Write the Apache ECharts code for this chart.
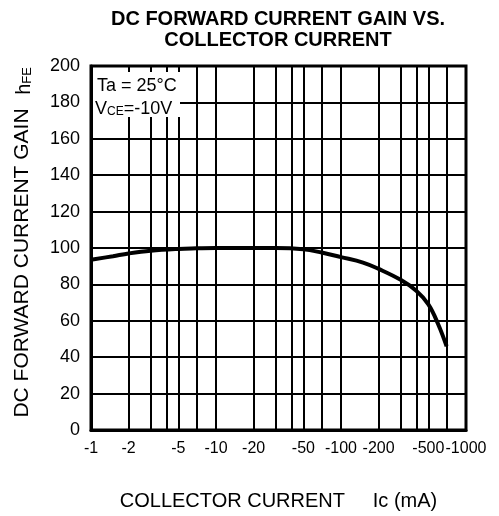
<!DOCTYPE html>
<html>
<head>
<meta charset="utf-8">
<script src="https://cdn.jsdelivr.net/npm/echarts@6/dist/echarts.min.js"></script>
<style>
  html, body { margin: 0; padding: 0; background: #fff; }
  #chart { width: 499px; height: 516px; }
</style>
</head>
<body>
<div id="chart"></div>
<script>
// collector current (mA, magnitude) and hFE
const currentMa = [1, 1.5, 2, 3, 5, 7, 10, 20, 30, 50, 70, 100, 150, 200, 300, 400, 500, 600, 700];
const hfe = [93.5, 95.5, 97, 98.5, 99.5, 99.8, 100, 100, 100, 99.3, 97.5, 95, 92, 88.5, 82.5, 76.5, 69, 58, 46];

// vertical grid lines and labelled ticks on the log axis
const gridTicks = [1, 2, 3, 4, 5, 7, 10, 20, 30, 40, 50, 70, 100, 200, 300, 400, 500, 700, 1000];
const labelTicks = [1, 2, 5, 10, 20, 50, 100, 200, 500, 1000];

const font = '"Liberation Sans", Arial, sans-serif';

let myChart = echarts.init(document.getElementById('chart'));
myChart.setOption({
  backgroundColor: '#fff',
  animation: false,
  title: {
    text: 'DC FORWARD CURRENT GAIN VS.\nCOLLECTOR CURRENT',
    left: 278,
    top: 9,
    padding: 0,
    textAlign: 'center',
    textStyle: { fontFamily: font, fontSize: 20, fontWeight: 'bold', color: '#000', lineHeight: 21 }
  },
  grid: {
    left: 91, right: 33, top: 66, bottom: 78,
    show: true, borderColor: '#000', borderWidth: 3
  },
  xAxis: {
    type: 'log',
    logBase: 10,
    min: 1,
    max: 1000,
    name: 'COLLECTOR CURRENT     Ic (mA)',
    nameLocation: 'middle',
    nameGap: 61,
    nameTextStyle: { fontFamily: font, fontSize: 20, color: '#000' },
    axisLine: { lineStyle: { color: '#000', width: 3 } },
    axisTick: { show: false, customValues: gridTicks },
    axisLabel: {
      customValues: labelTicks,
      formatter: v => '-' + v,
      margin: 11,
      hideOverlap: false,
      showMinLabel: true,
      showMaxLabel: true,
      fontFamily: font, fontSize: 16, color: '#000'
    },
    splitLine: { show: true, lineStyle: { color: '#000', width: 2 } }
  },
  yAxis: {
    type: 'value',
    min: 0,
    max: 200,
    interval: 20,
    axisLine: { show: true, lineStyle: { color: '#000', width: 3 } },
    axisTick: { show: false },
    axisLabel: { margin: 11, fontFamily: font, fontSize: 18, color: '#000' },
    splitLine: { show: true, lineStyle: { color: '#000', width: 2 } }
  },
  series: [{
    type: 'line',
    data: currentMa.map((x, i) => [x, hfe[i]]),
    smooth: 0.4,
    symbol: 'none',
    lineStyle: { color: '#000', width: 4 },
    z: 5
  }],
  graphic: [
    {
      type: 'rect',
      shape: { x: 93, y: 72, width: 87, height: 45 },
      style: { fill: '#fff' },
      z: 10
    },
    {
      type: 'text',
      x: 97, y: 86, z: 11,
      style: {
        text: 'Ta = 25°C',
        fontFamily: font, fontSize: 18, fill: '#000',
        verticalAlign: 'middle'
      }
    },
    {
      type: 'text',
      x: 95, y: 109, z: 11,
      style: {
        text: '{v|V}{s|CE}{v|=-10V}',
        verticalAlign: 'middle',
        rich: {
          v: { fontFamily: font, fontSize: 18, fill: '#000' },
          s: { fontFamily: font, fontSize: 12, fill: '#000', padding: [6, 0, 0, 0] }
        }
      }
    },
    {
      type: 'text',
      x: 22, y: 263, rotation: Math.PI / 2,
      style: {
        text: 'DC FORWARD CURRENT GAIN',
        fontFamily: font, fontSize: 21, fill: '#000',
        align: 'center', verticalAlign: 'middle'
      }
    },
    {
      type: 'text',
      x: 24, y: 81, rotation: Math.PI / 2,
      style: {
        text: '{h|h}{s|FE}',
        align: 'center', verticalAlign: 'middle',
        rich: {
          h: { fontFamily: font, fontSize: 20, fill: '#000' },
          s: { fontFamily: font, fontSize: 13, fill: '#000', padding: [6, 0, 0, 0] }
        }
      }
    }
  ]
});
</script>
</body>
</html>
